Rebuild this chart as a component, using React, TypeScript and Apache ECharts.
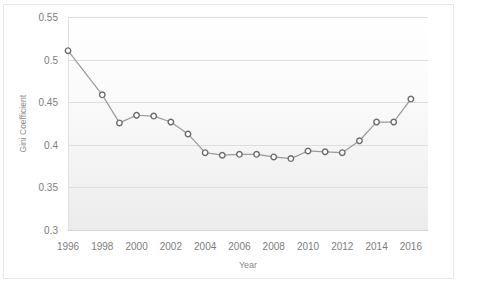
import React, { useEffect, useRef } from "react";
import * as echarts from "echarts";

const years = [1996, 1998, 1999, 2000, 2001, 2002, 2003, 2004, 2005, 2006, 2007, 2008, 2009, 2010, 2011, 2012, 2013, 2014, 2015, 2016];
const gini = [0.511, 0.459, 0.426, 0.435, 0.434, 0.427, 0.413, 0.391, 0.388, 0.389, 0.389, 0.386, 0.384, 0.393, 0.392, 0.391, 0.405, 0.427, 0.427, 0.454];
const xTitle = "Year";
const yTitle = "Gini Coefficient";

export default function App() {
  const ref = useRef<HTMLDivElement>(null);
  useEffect(() => {
    if (!ref.current) return;
    const chart = echarts.init(ref.current, null, { renderer: "svg" });
    const data = years.map((y, i) => [y, gini[i]]);
    chart.setOption({
      animation: false,
      backgroundColor: "#ffffff",
      textStyle: { fontFamily: "Liberation Sans, Arial, sans-serif" },
      grid: {
        left: 68,
        right: 52,
        top: 17.5,
        bottom: 51,
        show: true,
        borderWidth: 0,
        backgroundColor: new echarts.graphic.LinearGradient(0, 0, 0, 1, [
          { offset: 0, color: "#ffffff" },
          { offset: 0.35, color: "#fbfbfb" },
          { offset: 1, color: "#ececec" },
        ]),
      },
      graphic: [
        {
          type: "rect",
          shape: { x: 3.5, y: 4.5, width: 450, height: 274 },
          style: { fill: "none", stroke: "#e6e6e6", lineWidth: 1 },
          z: -1,
        },
      ],
      xAxis: {
        type: "value",
        min: 1996,
        max: 2017,
        interval: 2,
        name: xTitle,
        nameLocation: "middle",
        nameGap: 30,
        nameTextStyle: { color: "#8a8a8a", fontSize: 9 },
        axisLine: { show: true, lineStyle: { color: "#d4d4d4", width: 1 } },
        axisTick: { show: false },
        splitLine: { show: false },
        axisLabel: {
          color: "#7d7d7d",
          fontSize: 10,
          margin: 11,
          showMaxLabel: false,
          formatter: (v: number) => String(v),
        },
      },
      yAxis: {
        type: "value",
        min: 0.3,
        max: 0.55,
        interval: 0.05,
        name: yTitle,
        nameLocation: "middle",
        nameGap: 38,
        nameTextStyle: { color: "#8a8a8a", fontSize: 8.5 },
        axisLine: { show: true, lineStyle: { color: "#e0e0e0", width: 1 } },
        axisTick: { show: false },
        splitLine: { show: true, lineStyle: { color: "#dedede", width: 1 } },
        axisLabel: {
          color: "#7d7d7d",
          fontSize: 10,
          margin: 10,
          formatter: (v: number) => String(parseFloat(v.toFixed(2))),
        },
      },
      series: [
        {
          type: "line",
          data,
          symbol: "circle",
          symbolSize: 5.5,
          lineStyle: { color: "#9a9a9a", width: 1.2 },
          itemStyle: { color: "#ffffff", borderColor: "#6a6a6a", borderWidth: 1.4 },
        },
      ],
    });
    return () => chart.dispose();
  }, []);
  return (
    <div
      ref={ref}
      style={{ position: "fixed", left: 0, top: 0, width: 480, height: 281 }}
    />
  );
}
